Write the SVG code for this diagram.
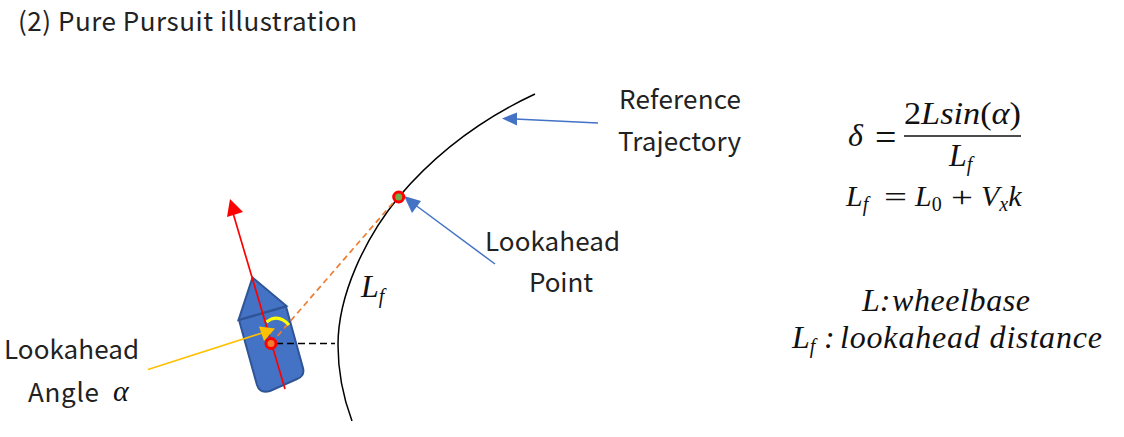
<svg xmlns="http://www.w3.org/2000/svg" width="1124" height="437" viewBox="0 0 1124 437">
<defs><style>
.t{font-family:"Noto Sans CJK SC","Noto Sans",sans-serif;font-size:26px;font-weight:400;fill:#222}
.m{font-family:"Liberation Serif",serif;font-style:italic;font-size:32px;fill:#111}
.p{font-size:30px}
.u{font-family:"Liberation Serif",serif;font-size:38px;fill:#111}
.o{font-family:"Liberation Serif",serif;font-size:30px;fill:#111}
.s{font-size:20px}
</style></defs>
<rect width="1124" height="437" fill="#fff"/>
<text class="t" x="18" y="31" textLength="339" lengthAdjust="spacing">(2) Pure Pursuit illustration</text>
<g id="trajectory"><path d="M535 94C475 122 430 160 398.700 197C365 238 338 295 338 345C338 372 343 397 352 421" fill="none" stroke="#000" stroke-width="1.500"/></g>
<g id="vehicle">
<path d="M239 320L286 306.500L303 368Q305 376 297 379L270 391Q260 394 257 385Z" fill="#4472C4" stroke="#2F5597" stroke-width="2"/>
<path d="M252.500 277.500L286.500 306L238.500 320Z" fill="#4472C4" stroke="#2F5597" stroke-width="2"/>
</g>
<g id="connectors">
<path d="M271 343.500L398 197" fill="none" stroke="#ED7D31" stroke-width="1.700" stroke-dasharray="6 4"/>
<path d="M276 343.500H335" fill="none" stroke="#000" stroke-width="1.500" stroke-dasharray="7 4"/>
<path d="M285 389L233 213" fill="none" stroke="#f00" stroke-width="1.700"/>
<path d="M230 199L227 217L243 212Z" fill="#f00"/>
<path d="M266.500 322Q278 313 289 325" fill="none" stroke="#ff0" stroke-width="3"/>
<path d="M148 369.500L262 333" fill="none" stroke="#FFC000" stroke-width="1.700"/>
<path d="M275 328.500L259 326.500L264 341Z" fill="#FFC000"/>
<path d="M598 123L515 119" fill="none" stroke="#4472C4" stroke-width="1.500"/>
<path d="M502 118.500L517 112.500L517 125.500Z" fill="#4472C4"/>
<path d="M495 264L414 204" fill="none" stroke="#4472C4" stroke-width="1.500"/>
<path d="M404 196L421 201L412 213Z" fill="#4472C4"/>
</g>
<g id="vehicle-point"><circle cx="271" cy="343.500" r="5" fill="#ED7D31" stroke="#f00" stroke-width="3"/></g>
<g id="lookahead-point"><circle cx="398.700" cy="197" r="5" fill="#70AD47" stroke="#f00" stroke-width="3"/></g>
<g id="labels">
<text class="t" x="619" y="109" textLength="122" lengthAdjust="spacing">Reference</text>
<text class="t" x="618" y="151" textLength="123" lengthAdjust="spacing">Trajectory</text>
<text class="t" x="485" y="251" textLength="135" lengthAdjust="spacing">Lookahead</text>
<text class="t" x="529" y="292" textLength="64" lengthAdjust="spacing">Point</text>
<text class="t" x="4" y="359" textLength="135" lengthAdjust="spacing">Lookahead</text>
<text class="t" x="28" y="402" textLength="71" lengthAdjust="spacing">Angle</text>
<text class="m p" x="113" y="401">α</text>
<text class="m" x="361" y="297">L<tspan class="s" dy="6">f</tspan></text>
</g>
<g id="formulas">
<text class="m" x="848" y="146" font-size="34">δ</text>
<text class="u" x="875" y="150">=</text>
<text class="m" x="904" y="124" textLength="117" lengthAdjust="spacingAndGlyphs"><tspan font-style="normal">2</tspan>Lsin<tspan font-style="normal">(</tspan>α<tspan font-style="normal">)</tspan></text>
<path d="M904 136H1021" stroke="#111" stroke-width="1.500" fill="none"/>
<text class="m" x="949" y="166">L<tspan class="s" dy="5">f</tspan></text>
<text class="m p" x="846" y="206">L<tspan class="s" dy="5">f</tspan></text>
<text class="o" transform="translate(884 207) scale(1.360 1)" x="0" y="0">=</text>
<text class="m p" x="915" y="206">L<tspan class="s" dy="5" font-style="normal">0</tspan></text>
<text class="o" transform="translate(951 207) scale(1.300 1)" x="0" y="0">+</text>
<text class="m p" x="981" y="206">V<tspan class="s" dy="5">x</tspan><tspan dy="-5">k</tspan></text>
<text class="m" x="862" y="311">L:</text>
<text class="m" x="892" y="311" textLength="138" lengthAdjust="spacing">wheelbase</text>
<text class="m" x="792" y="348">L<tspan class="s" dy="5">f</tspan></text>
<text class="m" x="824" y="348">:</text>
<text class="m" x="840" y="348" textLength="262" lengthAdjust="spacing">lookahead distance</text>
</g>
</svg>
